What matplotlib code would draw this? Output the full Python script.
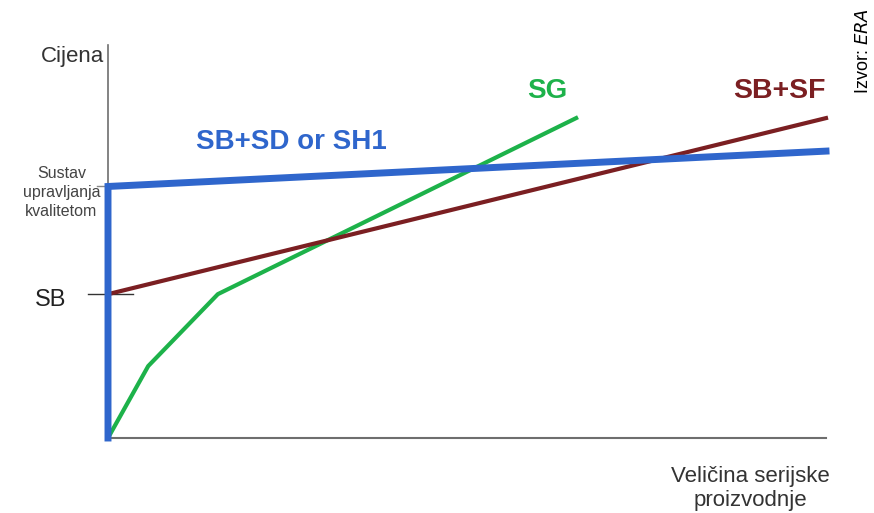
import matplotlib.pyplot as plt

plt.rcParams['font.family'] = ['Liberation Sans', 'DejaVu Sans']

# krivulje cijene (x: veličina serije 0-100, y: cijena 0-100)
blue_x = [0, 0, 100]
blue_y = [0, 64, 73]
green_x = [0, 5.6, 15.3, 65.2]
green_y = [0, 18.3, 36.6, 81.4]
brown_x = [0, 100]
brown_y = [36.6, 81.4]
sb_level = 36.6
qms_level = 64

fig = plt.figure(figsize=(8.74, 5.13), dpi=100)
ax = fig.add_axes([108/874, 75/513, 718/874, 393/513])
ax.set_xlim(0, 100)
ax.set_ylim(0, 100)
ax.axis('off')

# osi
ax.plot([0, 100], [0, 0], color='#6e6e6e', lw=1.5, clip_on=False)
ax.plot([0, 0], [0, 100], color='#6e6e6e', lw=1.2, clip_on=False)
ax.plot([-2.8, 3.5], [sb_level, sb_level], color='#333333', lw=1, clip_on=False)
ax.plot([-1.5, 0], [qms_level, qms_level], color='#888888', lw=1, clip_on=False)

ax.plot(green_x, green_y, color='#1db24a', lw=3, clip_on=False)
ax.plot(brown_x, brown_y, color='#7b1f22', lw=3, clip_on=False)
ax.plot(blue_x, blue_y, color='#2f66cc', lw=5, clip_on=False, solid_joinstyle='miter')

ax.text(12.2, 75.3, 'SB+SD or SH1', color='#2f66cc', fontsize=20, fontweight='bold',
        va='center')
ax.text(61.2, 88.3, 'SG', color='#1db24a', fontsize=20, fontweight='bold',
        ha='center', va='center')
ax.text(100, 88.3, 'SB+SF', color='#7b1f22', fontsize=20.5, fontweight='bold',
        ha='right', va='center')

ax.text(-0.5, 97, 'Cijena', fontsize=16, ha='right', va='center', color='#333333')
ax.text(-6.5, qms_level - 1.5, 'Sustav\nupravljanja\nkvalitetom', fontsize=11.5,
        ha='center', va='center', color='#444444', linespacing=1.35)
ax.text(-5.8, sb_level - 1.5, 'SB', fontsize=17, ha='right', va='center', color='#222222')
ax.text(89.5, -12.8, 'Veličina serijske\nproizvodnje', fontsize=16, ha='center',
        va='center', color='#333333', linespacing=1.2)

fig.text(864/874, 1 - 8/513, 'Izvor: $\\it{ERA}$', rotation=90, fontsize=13,
         ha='center', va='top')

fig.savefig('out.png', dpi=100)
